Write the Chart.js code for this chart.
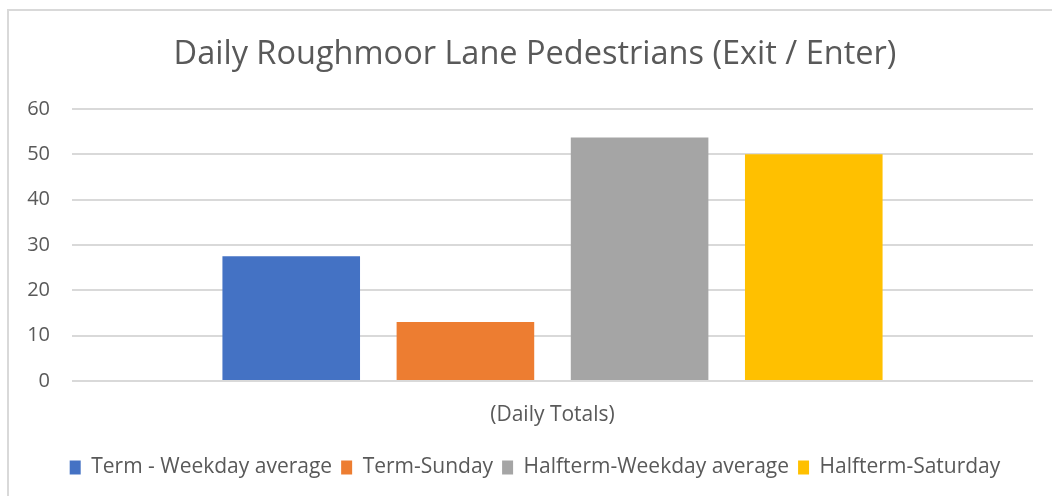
<!DOCTYPE html>
<html>
<head>
<meta charset="utf-8">
<script src="https://cdn.jsdelivr.net/npm/chart.js@4.4.1/dist/chart.umd.min.js"></script>
<style>
  html, body { margin: 0; padding: 0; background: #fff; overflow: hidden; }
  #wrap { position: relative; width: 1052px; height: 496px; }
  #frame { position: absolute; left: 7px; top: 9px; right: -10px; bottom: -10px;
           border-top: 2px solid #d9d9d9; border-left: 2px solid #d9d9d9; pointer-events: none; }
</style>
</head>
<body>
<div id="wrap">
  <canvas id="chart" width="1052" height="496"></canvas>
  <div id="frame"></div>
</div>
<script>
const categories = ['(Daily Totals)'];
const seriesNames = ['Term - Weekday average', 'Term-Sunday', 'Halfterm-Weekday average', 'Halfterm-Saturday'];
const seriesValues = [[27.5], [13], [53.7], [50]];
const seriesColors = ['#4472c4', '#ed7d31', '#a5a5a5', '#ffc000'];
const yTicks = [0, 10, 20, 30, 40, 50, 60];

const font = "'Open Sans', 'DejaVu Sans', sans-serif";
const textColor = '#595959';

const datasets = seriesNames.map((name, i) => ({
  label: name,
  data: seriesValues[i],
  backgroundColor: seriesColors[i],
  borderWidth: 0,
  categoryPercentage: 0.725,
  barPercentage: 0.79
}));

// the y labels stick out past the (narrow) axis box, so widen its clip area
const unclipTicks = {
  id: 'unclipTicks',
  afterLayout(chart) { chart.scales.y.left = 0; }
};

new Chart(document.getElementById('chart'), {
  type: 'bar',
  data: { labels: categories, datasets: datasets },
  plugins: [unclipTicks],
  options: {
    responsive: false,
    animation: false,
    // left padding keeps the title centred like the original
    layout: { padding: { left: 37, right: 19, top: 0, bottom: 8 } },
    plugins: {
      title: {
        display: true,
        text: 'Daily Roughmoor Lane Pedestrians (Exit / Enter)',
        color: textColor,
        font: { family: font, size: 32.5, weight: 'normal' },
        padding: { top: 35, bottom: 35 }
      },
      legend: {
        position: 'bottom',
        labels: {
          color: textColor,
          font: { family: font, size: 21 },
          boxWidth: 11,
          boxHeight: 14,
          padding: 9
        }
      },
      tooltip: { enabled: false }
    },
    scales: {
      x: {
        grid: { display: false },
        border: { display: false },
        ticks: { color: textColor, font: { family: font, size: 21 }, padding: 13 },
        afterFit: (scale) => { scale.height = 67; }
      },
      y: {
        min: 0,
        max: 60,
        afterBuildTicks: (scale) => { scale.ticks = yTicks.map(v => ({ value: v })); },
        grid: { color: '#d9d9d9', lineWidth: 2, drawTicks: false },
        border: { display: false },
        ticks: { color: textColor, font: { family: font, size: 20 }, padding: 22 },
        afterFit: (scale) => { scale.width = 35; }
      }
    }
  }
});
</script>
</body>
</html>
